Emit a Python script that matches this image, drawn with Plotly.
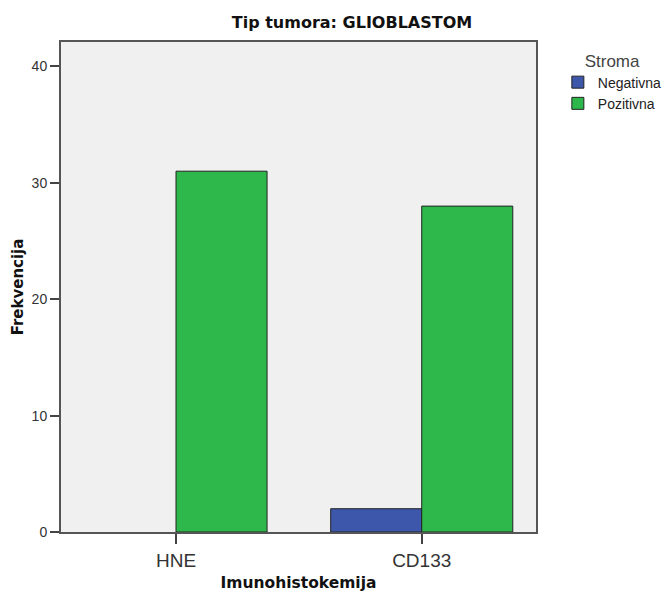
import plotly.graph_objects as go

# podaci
kategorije = ['HNE', 'CD133']
negativna = [None, 2]
pozitivna = [31, 28]

W, H = 665, 592

fig = go.Figure()

fig.add_trace(go.Bar(
    x=kategorije,
    y=negativna,
    name='Negativna',
    marker=dict(color='#3d58ab', line=dict(color='#222222', width=1))
))
fig.add_trace(go.Bar(
    x=kategorije,
    y=pozitivna,
    name='Pozitivna',
    marker=dict(color='#2eb84b', line=dict(color='#222222', width=1))
))

fig.update_layout(
    width=W, height=H,
    barmode='group',
    bargap=0.259,
    bargroupgap=0,
    paper_bgcolor='white',
    plot_bgcolor='#f0f0f0',
    margin=dict(l=61, r=129, t=42, b=60, autoexpand=False),
    font=dict(family='Liberation Sans, Arial', size=13, color='#333333'),
    title=dict(
        text='<b>Tip tumora: GLIOBLASTOM</b>',
        x=352 / W, xanchor='center',
        y=1 - 22 / H, yanchor='middle',
        font=dict(family='DejaVu Sans', size=16, color='#111111')
    ),
    legend=dict(
        title=dict(text='Stroma', side='top center',
                   font=dict(family='Liberation Sans, Arial', size=17, color='#444444')),
        x=1.046, xanchor='left',
        y=0.995, yanchor='top',
        font=dict(size=14, color='#222222'),
        itemwidth=30,
        tracegroupgap=0,
        bgcolor='rgba(0,0,0,0)'
    ),
    showlegend=True
)

fig.update_xaxes(
    type='category',
    range=[-0.468, 1.465],
    automargin=False,
    showline=True, linecolor='#555555', linewidth=2, mirror=True,
    ticks='outside', ticklen=10, tickcolor='#444444', tickwidth=1.5,
    showgrid=False,
    title=dict(text='<b>Imunohistokemija</b>',
               font=dict(family='DejaVu Sans', size=15.5, color='#111111'), standoff=10),
    tickfont=dict(size=19, color='#333333')
)
fig.update_yaxes(
    range=[0, 42.1],
    tickvals=[0, 10, 20, 30, 40],
    automargin=False,
    showline=True, linecolor='#555555', linewidth=2, mirror=True,
    ticks='outside', ticklen=9, tickcolor='#444444', tickwidth=1.5,
    showgrid=False, zeroline=False,
    title=dict(text='<b>Frekvencija</b>',
               font=dict(family='DejaVu Sans', size=15, color='#111111'), standoff=4),
    tickfont=dict(size=14, color='#333333')
)

# bez margine stranice, da figura tocno popuni prozor
fig.write_html('out.html',
               config={'displayModeBar': False},
               post_script="document.body.style.margin='0';document.body.style.overflow='hidden';")
